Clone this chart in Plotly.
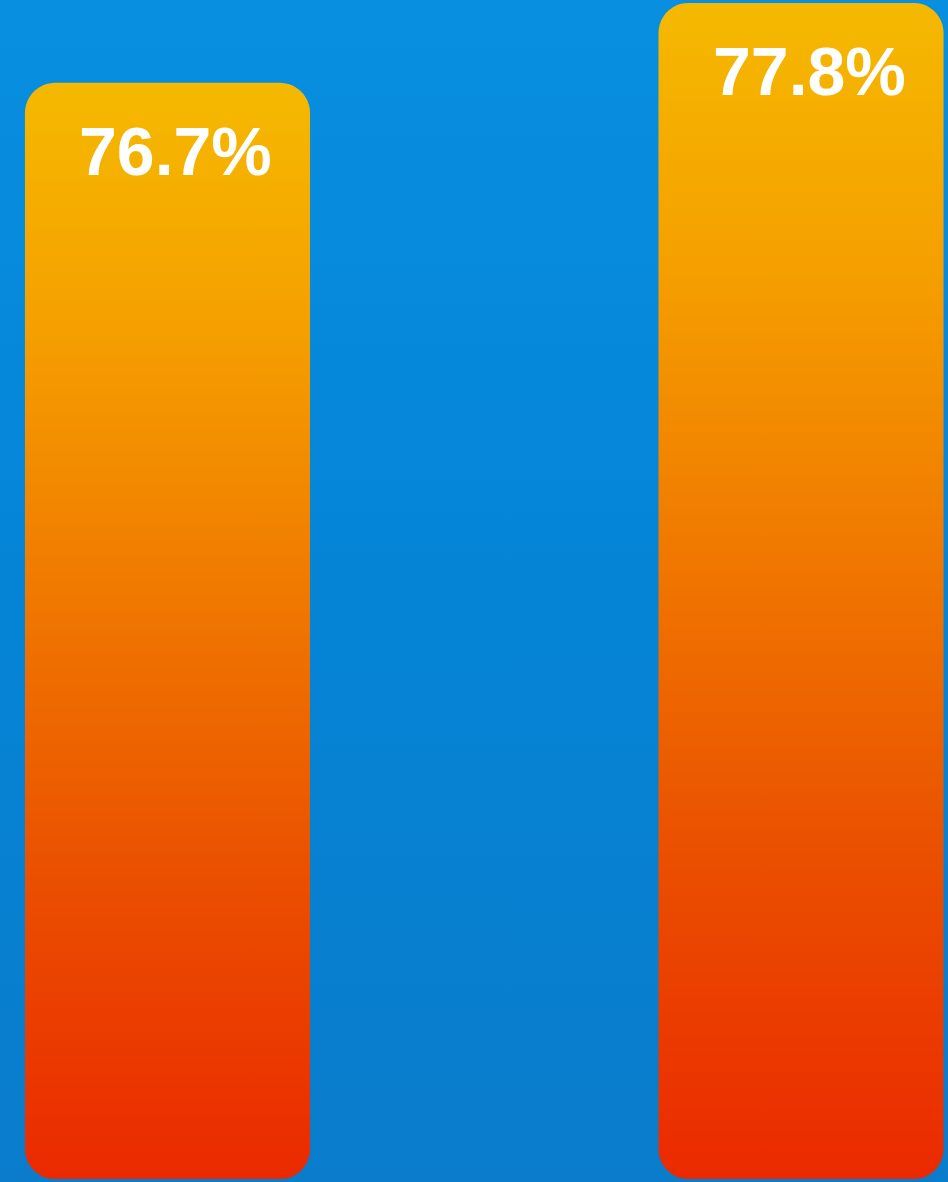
import numpy as np
import plotly.graph_objs as go

categories = ['A', 'B']
values = [76.7, 77.8]
labels = ['76.7%', '77.8%']

bar_base = 61.62
y_range = [61.58, 77.84]
x_range = [-0.2644, 1.232]
bar_width = 0.45
corner_px = 30

W, H = 948, 1182
px_x = W / (x_range[1] - x_range[0])
px_y = H / (y_range[1] - y_range[0])

bar_scale = [[0, '#eb2900'], [0.28, '#ea5000'], [0.53, '#f07800'],
             [0.78, '#f5a000'], [1, '#f5b900']]
bg_scale = [[0, '#0a7ccb'], [0.5, '#0584d6'], [1, '#088fe0']]


def rounded_bar(xc, top, base):
    # rounded rectangle outline in data units
    rx = corner_px / px_x
    ry = corner_px / px_y
    x0, x1 = xc - bar_width / 2, xc + bar_width / 2
    t = np.linspace(0, np.pi / 2, 12)
    xs, ys = [], []
    # top right, top left, bottom left, bottom right
    for cx, cy, a0 in [(x1 - rx, top - ry, 0), (x0 + rx, top - ry, np.pi / 2),
                       (x0 + rx, base + ry, np.pi), (x1 - rx, base + ry, 1.5 * np.pi)]:
        xs += list(cx + rx * np.cos(a0 + t))
        ys += list(cy + ry * np.sin(a0 + t))
    return xs + xs[:1], ys + ys[:1]


fig = go.Figure()

# background gradient
fig.add_trace(go.Scatter(x=[0, 1, 1, 0, 0], y=[0, 0, 1, 1, 0], mode='none',
                         fill='toself', hoverinfo='skip',
                         fillgradient=dict(type='vertical', colorscale=bg_scale),
                         xaxis='x', yaxis='y', showlegend=False))

for i, (cat, v) in enumerate(zip(categories, values)):
    xs, ys = rounded_bar(i, v, bar_base)
    fig.add_trace(go.Scatter(x=xs, y=ys, mode='none', fill='toself', name=cat,
                             fillgradient=dict(type='vertical', colorscale=bar_scale),
                             xaxis='x2', yaxis='y2', showlegend=False))
    fig.add_annotation(x=i, y=v, xref='x2', yref='y2', text='<b>' + labels[i] + '</b>',
                       showarrow=False, yanchor='top', xshift=8, yshift=-28,
                       font=dict(family='Liberation Sans, Arial, sans-serif',
                                 size=68, color='white'))

hidden = dict(visible=False, showgrid=False, zeroline=False, fixedrange=True)
fig.update_layout(
    width=W, height=H,
    margin=dict(l=0, r=0, t=0, b=0),
    paper_bgcolor='#0584d6', plot_bgcolor='#0584d6',
    xaxis=dict(range=[0, 1], **hidden),
    yaxis=dict(range=[0, 1], **hidden),
    xaxis2=dict(range=x_range, overlaying='x', **hidden),
    yaxis2=dict(range=y_range, overlaying='y', **hidden),
)

fig.write_html("out.html", config={'displayModeBar': False},
               post_script="document.body.style.margin='0';"
                           "document.body.style.overflow='hidden';")
